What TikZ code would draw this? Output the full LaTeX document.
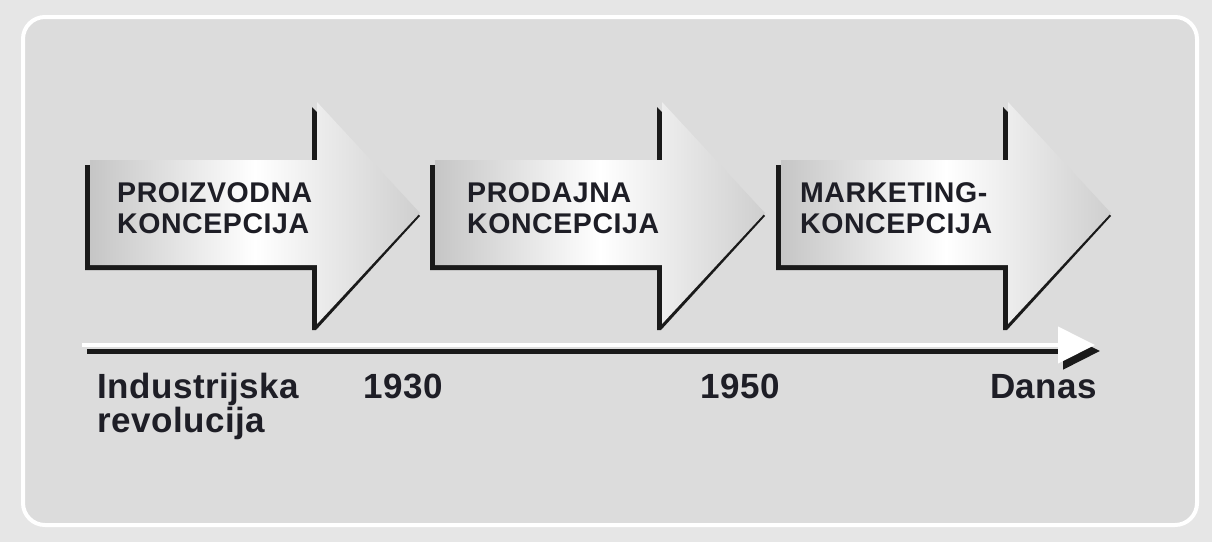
\documentclass[tikz,border=0pt]{standalone}
\usepackage{fontspec}
\setmainfont{Liberation Sans}
\newfontfamily\lblfont[LetterSpace=2]{Liberation Sans}
\newfontfamily\tlfont[LetterSpace=1.5]{Liberation Sans}
\usetikzlibrary{arrows.meta}
\definecolor{outerbg}{HTML}{E6E6E6}
\definecolor{innerbg}{HTML}{DCDCDC}
\definecolor{txt}{HTML}{1E1E26}
\definecolor{shadowblk}{HTML}{1A1A1A}
\tikzset{
  lbl/.style={font=\lblfont\bfseries\fontsize{28.5}{31}\selectfont, align=left, inner sep=0pt, text=txt, anchor=base west},
  tl/.style={font=\tlfont\bfseries\fontsize{35}{34}\selectfont, align=left, inner sep=0pt, text=txt, anchor=base west},
  arrowshade/.style={left color=gray!45, right color=gray!38, middle color=white},
  arrowshadow/.style={fill=shadowblk},
}
\begin{document}
\begin{tikzpicture}[x=1pt,y=-1pt]
\useasboundingbox (0,0) rectangle (1212,542);
\fill[outerbg] (0,0) rectangle (1212,542);
\draw[white, line width=4pt, fill=innerbg, rounded corners=22pt] (23,17) rectangle (1197,525);

% block arrows: L = body left, H = head back, T = tip
\foreach \L in {90,435,781}{
  \pgfmathsetmacro{\H}{\L+227}
  \pgfmathsetmacro{\T}{\L+330}
  \fill[arrowshadow]
    (\L-5,165) -- (\H-5,165) -- (\H-5,107) -- (\T,216) -- (\H-1,330) -- (\H-5,330) -- (\H-5,270) -- (\L-5,270) -- cycle;
  \shade[arrowshade]
    (\L,160) -- (\H,160) -- (\H,102) -- (\T,213) -- (\H,324) -- (\H,265) -- (\L,265) -- cycle;
}

% multi-line nodes: base anchor is on the last line
\node[lbl] (c1) at (117,233) {PROIZVODNA\\KONCEPCIJA};
\node[lbl] (c2) at (467,233) {PRODAJNA\\KONCEPCIJA};
\node[lbl] (c3) at (800,233) {MARKETING-\\KONCEPCIJA};

% timeline
\coordinate (tlstart) at (82,345);
\coordinate (tlend) at (1095,345);
\draw[shadowblk, line width=5pt, -{Triangle[length=37pt,width=36pt]}, transform canvas={shift={(5pt,-6pt)}}] (tlstart) -- (tlend);
\draw[white, line width=4pt, -{Triangle[length=37pt,width=36pt]}] (tlstart) -- (tlend);

\node[tl] (t0) at (97,432) {Industrijska\\revolucija};
\node[tl] (t1) at (363,398) {1930};
\node[tl] (t2) at (700,398) {1950};
\node[tl] (t3) at (990,398) {Danas};
\end{tikzpicture}
\end{document}
